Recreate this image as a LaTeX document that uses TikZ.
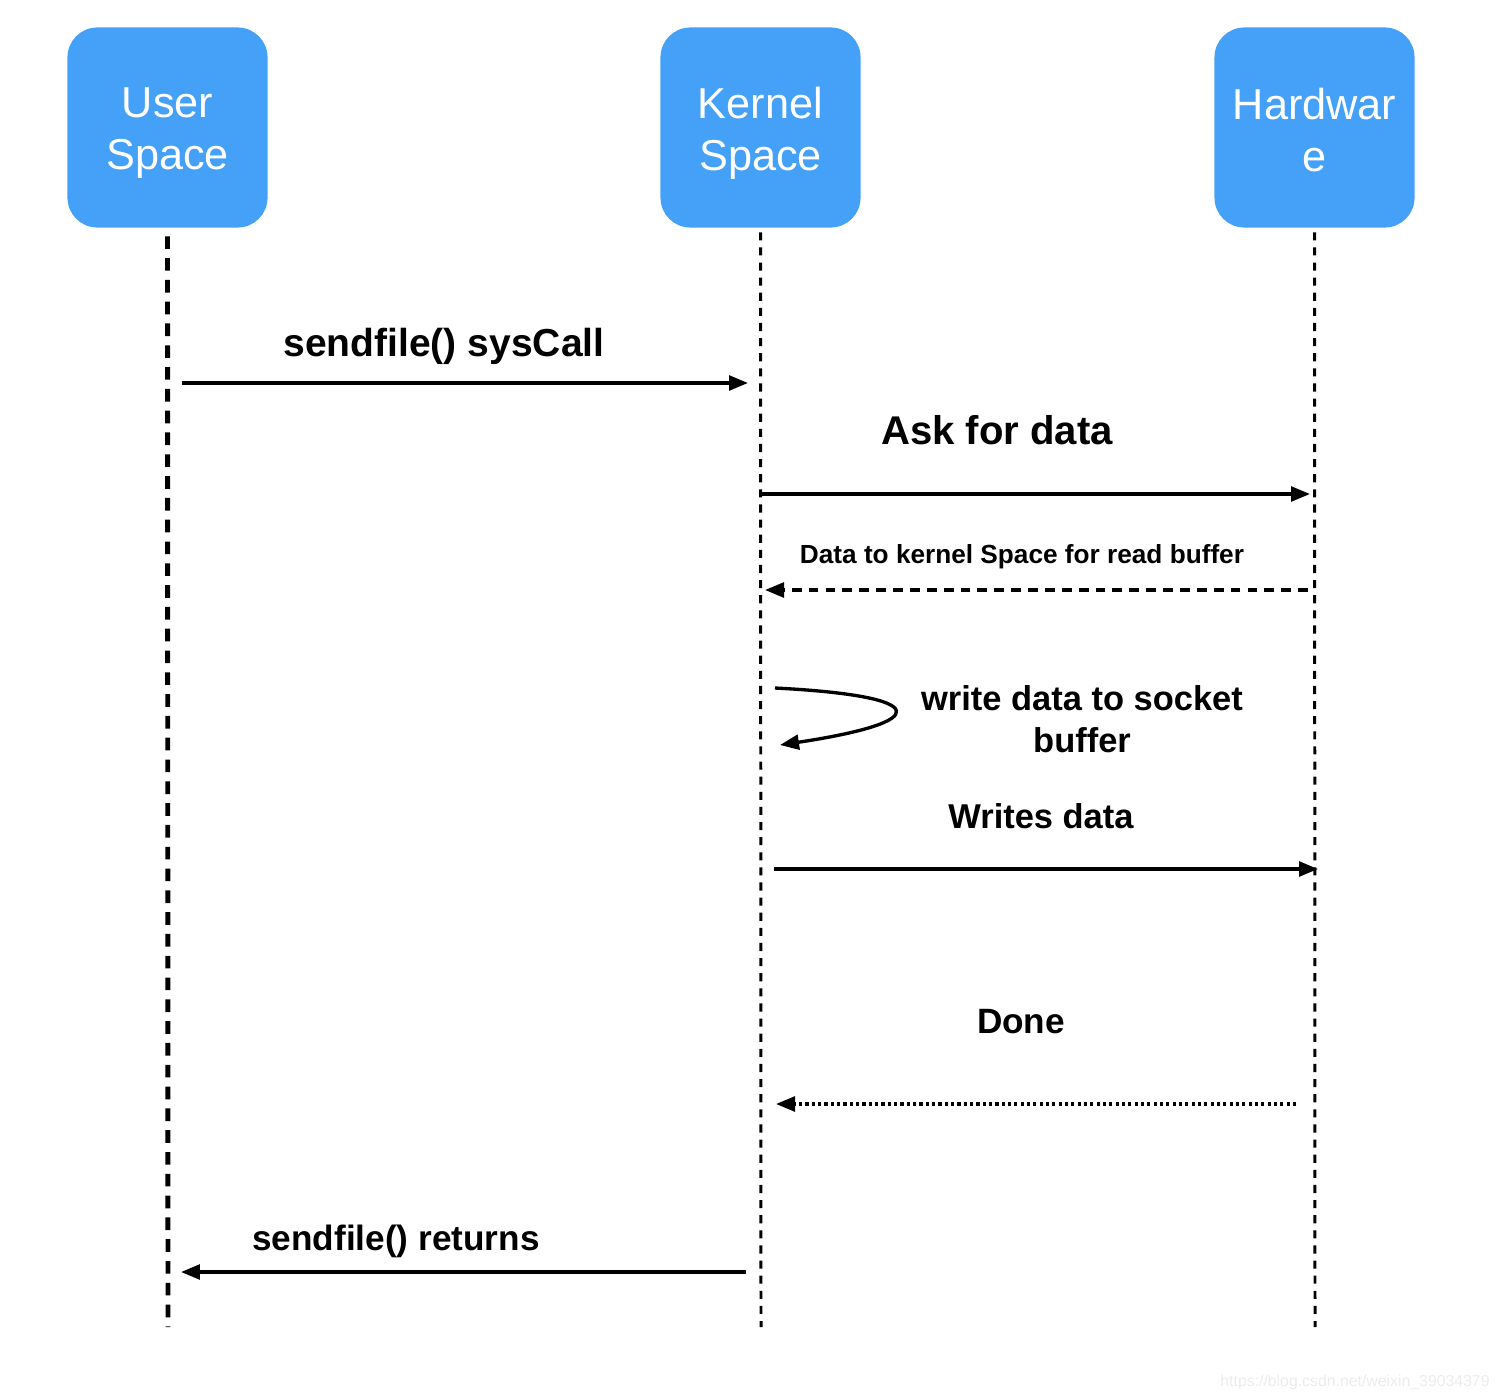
\documentclass[tikz,border=0pt]{standalone}
\usepackage{fontspec}
\setmainfont{Liberation Sans}
\usetikzlibrary{arrows.meta, positioning, calc}
\definecolor{boxblue}{RGB}{69,161,247}
\definecolor{wmark}{RGB}{236,236,236}

\begin{document}
\begin{tikzpicture}[x=0.01cm, y=-0.01cm,
  actor/.style={rectangle, rounded corners=8.5pt, fill=boxblue, minimum size=2cm, inner sep=0pt},
  actortext/.style={text=white, align=center, font=\fontsize{12.3}{14.8}\selectfont},
  userline/.style={line width=1.4pt, dash pattern=on 3.6pt off 2.6pt},
  sysline/.style={line width=0.85pt, dash pattern=on 2.3pt off 2pt},
  msg/.style={line width=0.95pt, -{Triangle[length=5.4pt, width=4.2pt]}},
  lbl/.style={align=center, font=\bfseries\fontsize{10}{12}\selectfont}]
  \useasboundingbox (0,0) rectangle (1500,1400);

  % participants
  \node[actor] (user) at (167.5,127.5) {};
  \node[actor] (kernel) at (760.5,127.5) {};
  \node[actor] (hw) at (1314.5,127.5) {};
  \node[actortext] (userTxt) at ($(user)+(0,6)$) {User\\Space};
  \node[actortext] (kernelTxt) at ($(kernel)+(0,6)$) {Kernel\\Space};
  \node[actortext] (hwTxt) at ($(hw)+(0,3)$) {Hardwar\\e};

  % lifelines
  \coordinate (userEnd) at (168,1327);
  \coordinate (kernelEnd) at (761,1327);
  \coordinate (hwEnd) at (1315,1327);
  \draw[userline] ($(user.south)+(0,8)$) -- (userEnd);
  \draw[sysline] ($(kernel.south)+(0,4)$) -- (kernelEnd);
  \draw[sysline] ($(hw.south)+(0,4)$) -- (hwEnd);

  % message end points
  \coordinate (callA) at (182,383);   \coordinate (callB) at (748,383);
  \coordinate (askA) at (761,494);    \coordinate (askB) at (1310,494);
  \coordinate (dataA) at (1308,590);  \coordinate (dataB) at (765,590);
  \coordinate (loopA) at (775,688);   \coordinate (loopB) at (780,745);
  \coordinate (writeA) at (774,869);  \coordinate (writeB) at (1318,869);
  \coordinate (doneA) at (1296,1104); \coordinate (doneB) at (776,1104);
  \coordinate (retA) at (746,1272);   \coordinate (retB) at (181,1272);

  % messages
  \draw[msg] (callA) -- (callB);
  \draw[msg] (askA) -- (askB);
  \draw[msg, dash pattern=on 2.8pt off 2pt] (dataA) -- (dataB);
  \draw[msg] (loopA) .. controls (933,696) and (933,722) .. (loopB);
  \draw[msg] (writeA) -- (writeB);
  \draw[msg, dash pattern=on 0.9pt off 0.9pt] (doneA) -- (doneB);
  \draw[msg] (retA) -- (retB);

  % labels
  \node[lbl, font=\bfseries\fontsize{11.1}{13}\selectfont] (callLbl) at (444,346) {sendfile() sysCall};
  \node[lbl, font=\bfseries\fontsize{11.4}{13}\selectfont] (askLbl) at (997,430) {Ask for data};
  \node[lbl, font=\bfseries\fontsize{7.45}{9}\selectfont] (dataLbl) at (1022,557) {Data to kernel Space for read buffer};
  \node[lbl, font=\bfseries\fontsize{9.8}{11.9}\selectfont] (loopLbl) at (1082,719) {write data to socket\\buffer};
  \node[lbl, font=\bfseries\fontsize{9.8}{12}\selectfont] (writeLbl) at (1041,816) {Writes data};
  \node[lbl] (doneLbl) at (1021,1022) {Done};
  \node[lbl] (retLbl) at (396,1241) {sendfile() returns};

  \node[text=wmark, font=\fontsize{4.5}{6}\selectfont] (wm) at (1355,1382) {https://blog.csdn.net/weixin\_39034379};
\end{tikzpicture}
\end{document}
